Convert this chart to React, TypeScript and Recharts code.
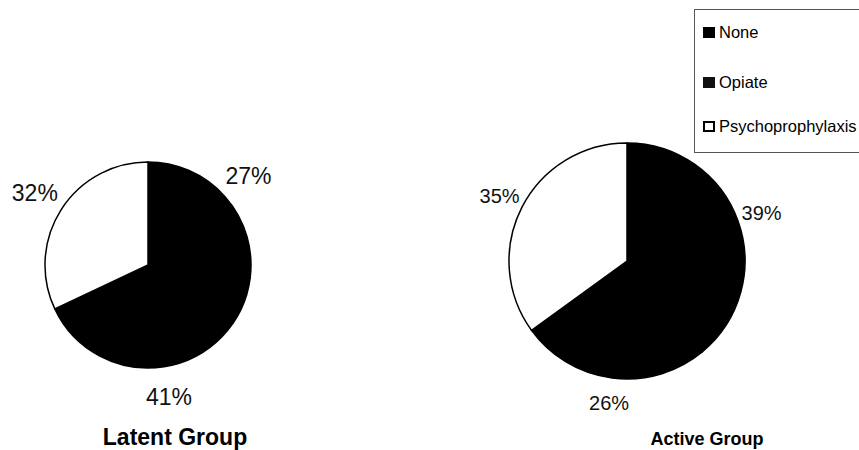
import React from 'react';
import { PieChart, Pie, Cell } from 'recharts';

const categories = ['None', 'Opiate', 'Psychoprophylaxis'];
const latentValues = [27, 41, 32];
const activeValues = [39, 26, 35];
const sliceColors = ['#000000', '#000000', '#ffffff'];
const legendSwatch = ['#000000', '#111111', '#ffffff'];
const titles = ['Latent Group', 'Active Group'];

const latentData = categories.map((name, i) => ({ name, value: latentValues[i] }));
const activeData = categories.map((name, i) => ({ name, value: activeValues[i] }));

const FONT = '"Liberation Sans", Arial, Helvetica, sans-serif';
const RAD = Math.PI / 180;

const makeLabel = (offset: number, fontSize: number) => (props: any) => {
  const { cx, cy, midAngle, outerRadius, value } = props;
  const r = outerRadius + offset;
  const x = cx + r * Math.cos(-midAngle * RAD);
  const y = cy + r * Math.sin(-midAngle * RAD);
  return (
    <text
      x={x}
      y={y}
      textAnchor="middle"
      dominantBaseline="central"
      fontFamily={FONT}
      fontSize={fontSize}
      fill="#111"
    >
      {`${value}%`}
    </text>
  );
};

export default function App() {
  return (
    <div
      style={{
        position: 'absolute',
        left: 0,
        top: 0,
        width: 859,
        height: 450,
        overflow: 'hidden',
        background: '#fff',
        fontFamily: FONT,
      }}
    >
      <PieChart width={859} height={450} margin={{ top: 0, right: 0, bottom: 0, left: 0 }}>
        <Pie
          data={latentData}
          dataKey="value"
          nameKey="name"
          cx={148}
          cy={265}
          outerRadius={103}
          startAngle={90}
          endAngle={-270}
          stroke="#000"
          strokeWidth={1.5}
          label={makeLabel(31, 23)}
          labelLine={false}
          isAnimationActive={false}
        >
          {latentData.map((d, i) => (
            <Cell key={d.name} fill={sliceColors[i]} />
          ))}
        </Pie>
        <Pie
          data={activeData}
          dataKey="value"
          nameKey="name"
          cx={627}
          cy={261}
          outerRadius={118}
          startAngle={90}
          endAngle={-270}
          stroke="#000"
          strokeWidth={1.5}
          label={makeLabel(25, 20)}
          labelLine={false}
          isAnimationActive={false}
        >
          {activeData.map((d, i) => (
            <Cell key={d.name} fill={sliceColors[i]} />
          ))}
        </Pie>
        <text x={175} y={445} textAnchor="middle" fontFamily={FONT} fontWeight="bold" fontSize={23} fill="#000">
          {titles[0]}
        </text>
        <text x={707} y={445} textAnchor="middle" fontFamily={FONT} fontWeight="bold" fontSize={18} fill="#000">
          {titles[1]}
        </text>
      </PieChart>
      <div
        style={{
          position: 'absolute',
          left: 694,
          top: 9,
          width: 240,
          height: 144,
          border: '1px solid #555',
          boxSizing: 'border-box',
          background: '#fff',
        }}
      >
        {categories.map((name, i) => {
          const centers = [22, 72, 116];
          return (
            <div
              key={name}
              style={{
                position: 'absolute',
                left: 8,
                top: centers[i] - 10,
                height: 20,
                display: 'flex',
                alignItems: 'center',
                whiteSpace: 'nowrap',
              }}
            >
              <span
                style={{
                  display: 'inline-block',
                  width: 12,
                  height: 11,
                  background: legendSwatch[i],
                  border: i === 2 ? '2px solid #000' : '0',
                  boxSizing: 'border-box',
                  marginRight: 4,
                }}
              />
              <span style={{ fontSize: 16.5, color: '#000', fontFamily: FONT }}>{name}</span>
            </div>
          );
        })}
      </div>
    </div>
  );
}
